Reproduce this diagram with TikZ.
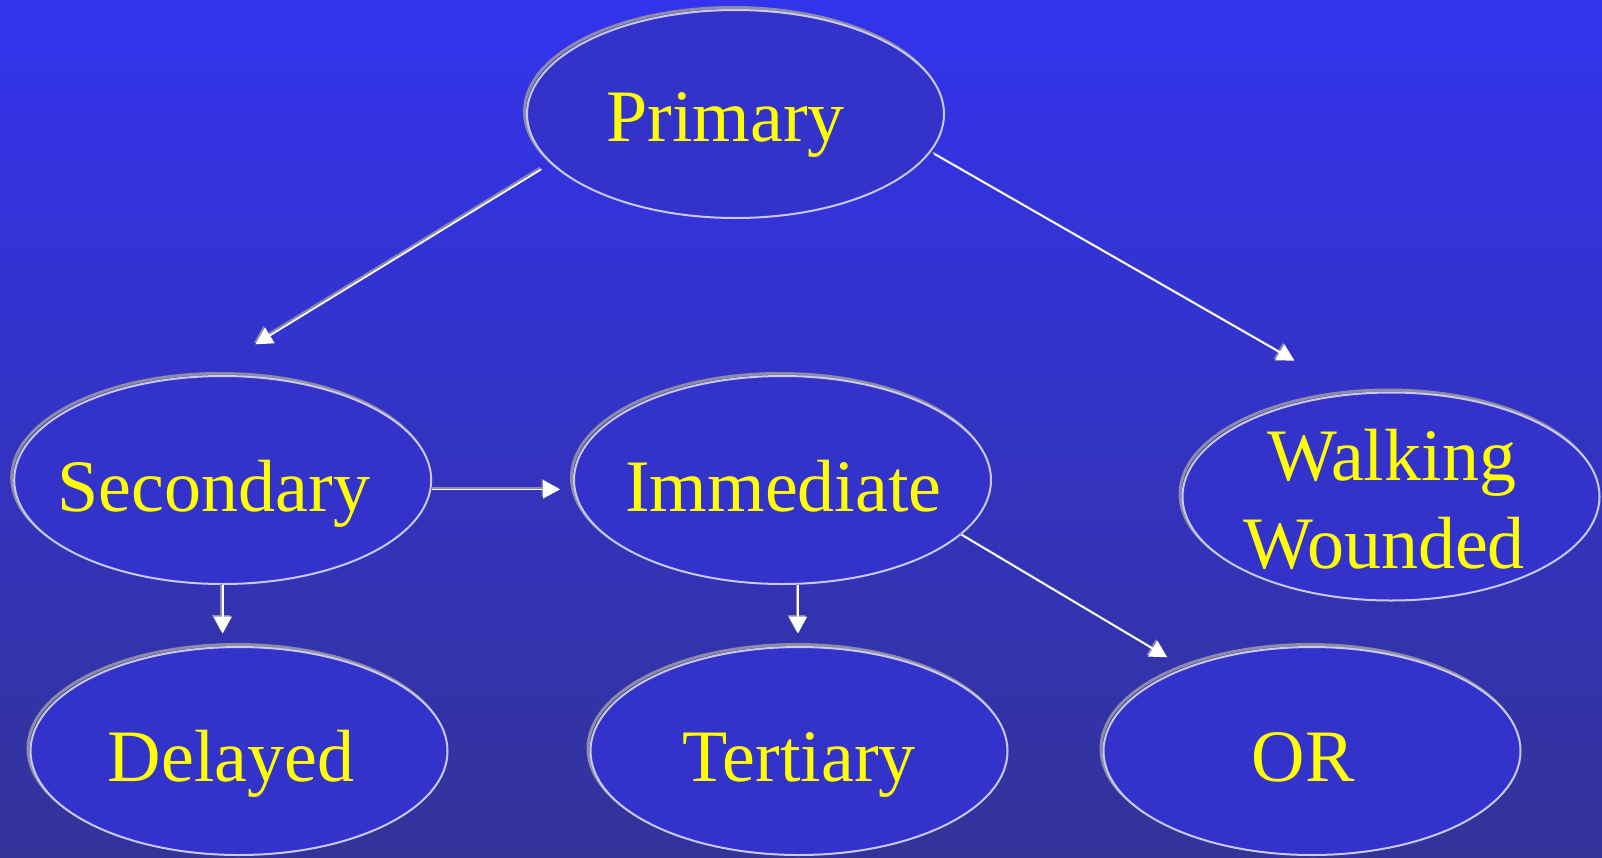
\documentclass[tikz,border=0pt]{standalone}
\usepackage{fontspec}
\setmainfont{Liberation Serif}
\usetikzlibrary{shapes.geometric,arrows.meta}
\definecolor{bgtop}{RGB}{51,51,238}
\definecolor{bgbot}{RGB}{51,51,153}
\definecolor{ellfill}{RGB}{51,51,204}
\definecolor{ellborder}{RGB}{200,200,240}
\definecolor{shadowgray}{RGB}{140,140,165}
\definecolor{lblyellow}{RGB}{255,255,0}
\tikzset{
  oval/.style={ellipse, minimum width=417pt, minimum height=208pt, inner sep=0pt,
    fill=ellfill, draw=ellborder, line width=2pt,
    preaction={draw=shadowgray, line width=3pt, transform canvas={xshift=-2.5pt,yshift=2.5pt}}},
  lbl/.style={text=lblyellow, font=\fontsize{74}{88}\selectfont, inner sep=0pt, anchor=base},
  conn/.style={draw=white, line width=1.8pt, -{Triangle[length=17pt,width=18pt]},
    preaction={draw=shadowgray, line width=1.8pt, transform canvas={xshift=-1.5pt,yshift=1.5pt}}}
}
\begin{document}
\begin{tikzpicture}[x=1pt,y=-1pt]
\useasboundingbox (0,0) rectangle (1602,857);
\shade[top color=bgtop, bottom color=bgbot] (0,0) rectangle (1602,857);

\node[oval] (P) at (735.5,114) {};
\node[oval] (S) at (222.7,480) {};
\node[oval] (I) at (782.5,480) {};
\node[oval] (W) at (1391,496.5) {};
\node[oval] (D) at (239,751) {};
\node[oval] (T) at (799,751) {};
\node[oval] (O) at (1312,751) {};

\node[lbl] (tP) at (725.5,141.7) {Primary};
\node[lbl] (tS) at (214,511) {Secondary};
\node[lbl] (tI) at (783.5,511) {Immediate};
\node[lbl] (tW1) at (1391.5,480) {Walking};
\node[lbl] (tW2) at (1384,568) {Wounded};
\node[lbl] (tD) at (231,781.6) {Delayed};
\node[lbl] (tT) at (799,781.6) {Tertiary};
\node[lbl] (tO) at (1303,781.6) {OR};

\coordinate (e1) at (255.4,344.3);
\coordinate (e2) at (1294.5,360.7);
\coordinate (e3) at (560,489.4);
\coordinate (e4) at (222.7,633.5);
\coordinate (e5) at (798,633.5);
\coordinate (e6) at (1167.3,657.3);

\draw[conn, shorten <=11pt] (P.195.3) -- (e1);
\draw[conn, shorten <=4pt] (P.-11.7) -- (e2);
\draw[conn] (S.east |- e3) -- (e3);
\draw[conn] (S.south) -- (e4);
\draw[conn] (I.south -| e5) -- (e5);
\draw[conn] (I.-17.8) -- (e6);
\end{tikzpicture}
\end{document}
